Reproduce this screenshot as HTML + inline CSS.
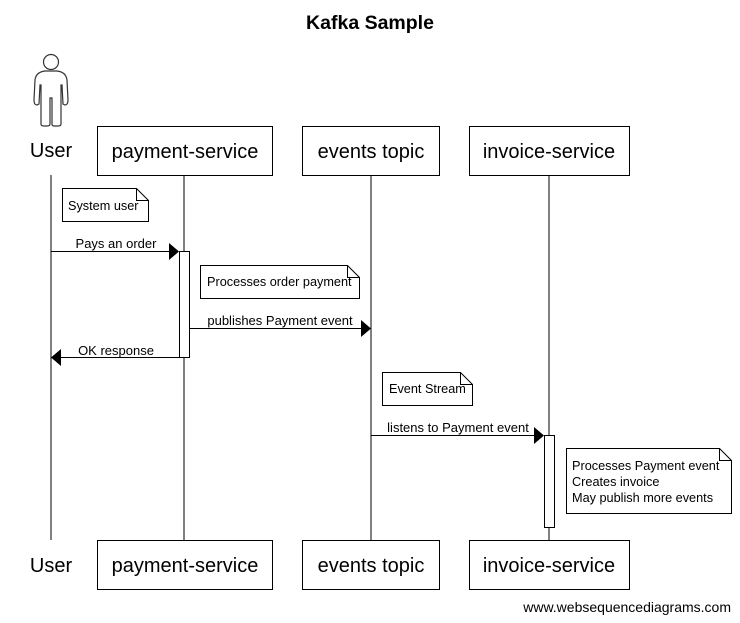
<!DOCTYPE html>
<html><head><meta charset="utf-8"><style>
html,body{margin:0;padding:0;background:#fff}
svg{display:block}
text{font-family:"Liberation Sans",Arial,sans-serif;fill:#000}
</style></head><body>
<svg width="740" height="623" viewBox="0 0 740 623" xmlns="http://www.w3.org/2000/svg">
<text x="370" y="29" font-size="19.5" font-weight="bold" text-anchor="middle">Kafka Sample</text>
<g fill="#fff" stroke="#333" stroke-width="1.2">
<circle cx="51" cy="62" r="7.5"/>
<path d="M45 71 L57 71 Q66 72 67 80 L68 100 Q68 105 65 105 L63 104 L62 85 L61 85 L61 124 Q61 126 58 126 L54 126 Q52 126 52 124 L52 98 L50 98 L50 124 Q50 126 47 126 L44 126 Q41 126 41 124 L41 85 L40 85 L39 104 L37 105 Q34 105 34 100 L35 80 Q36 72 45 71 Z"/>
</g>
<text x="51" y="157" font-size="20" text-anchor="middle">User</text>
<text x="51" y="572" font-size="20" text-anchor="middle">User</text>
<g stroke="#000" stroke-width="1">
<line x1="51" y1="175" x2="51" y2="540"/>
<line x1="184" y1="175" x2="184" y2="540"/>
<line x1="371" y1="175" x2="371" y2="540"/>
<line x1="549" y1="175" x2="549" y2="540"/>
</g>
<g fill="#fff" stroke="#000" stroke-width="1">
<rect x="97.5" y="126.5" width="175" height="49"/>
<rect x="302.5" y="126.5" width="137" height="49"/>
<rect x="469.5" y="126.5" width="160" height="49"/>
<rect x="97.5" y="540.5" width="175" height="49"/>
<rect x="302.5" y="540.5" width="137" height="49"/>
<rect x="469.5" y="540.5" width="160" height="49"/>
</g>
<g font-size="20" text-anchor="middle">
<text x="185" y="158">payment-service</text>
<text x="371" y="158">events topic</text>
<text x="549" y="158">invoice-service</text>
<text x="185" y="572">payment-service</text>
<text x="371" y="572">events topic</text>
<text x="549" y="572">invoice-service</text>
</g>
<g fill="#fff" stroke="#000">
<rect x="179.5" y="251.5" width="10" height="106"/>
<rect x="544.5" y="435.5" width="10" height="92"/>
</g>
<g fill="#fff" stroke="#000" stroke-width="1">
<path d="M62.5 188.5 H136.5 L148.5 200.5 V221.5 H62.5 Z"/>
<path d="M200.5 265.5 H347.5 L359.5 277.5 V298.5 H200.5 Z"/>
<path d="M382.5 372.5 H460.5 L472.5 384.5 V405.5 H382.5 Z"/>
<path d="M566.5 448.5 H719.5 L731.5 460.5 V513.5 H566.5 Z"/>
</g>
<g fill="none" stroke="#000" stroke-width="1">
<path d="M136.5 188.5 V200.5 H148.5"/>
<path d="M347.5 265.5 V277.5 H359.5"/>
<path d="M460.5 372.5 V384.5 H472.5"/>
<path d="M719.5 448.5 V460.5 H731.5"/>
</g>
<g font-size="12.7">
<text x="68" y="210">System user</text>
<text x="207" y="286">Processes order payment</text>
<text x="389" y="393">Event Stream</text>
<text x="572" y="470">Processes Payment event</text>
<text x="572" y="486">Creates invoice</text>
<text x="572" y="502">May publish more events</text>
</g>
<g stroke="#000" stroke-width="1">
<line x1="51" y1="251.5" x2="172" y2="251.5"/>
<line x1="189" y1="328.5" x2="364" y2="328.5"/>
<line x1="58" y1="357.5" x2="179" y2="357.5"/>
<line x1="371" y1="435.5" x2="537" y2="435.5"/>
</g>
<g fill="#000">
<polygon points="169,243 179,251.5 169,260"/>
<polygon points="361,320 371,328.5 361,337"/>
<polygon points="61,349 51,357.5 61,366"/>
<polygon points="534,427 544,435.5 534,444"/>
</g>
<g font-size="13" text-anchor="middle">
<text x="116" y="248">Pays an order</text>
<text x="280" y="325">publishes Payment event</text>
<text x="116" y="355">OK response</text>
<text x="458" y="432">listens to Payment event</text>
</g>
<text x="731" y="612" font-size="14" text-anchor="end">www.websequencediagrams.com</text>
</svg>
</body></html>
